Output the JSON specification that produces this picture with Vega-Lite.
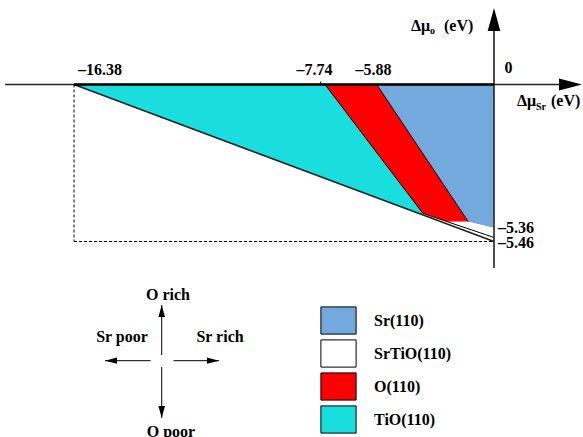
{
  "$schema": "https://vega.github.io/schema/vega-lite/v6.json",
  "width": 583,
  "height": 437,
  "autosize": {"type": "none"},
  "padding": 0,
  "background": "white",
  "config": {"view": {"stroke": null}},
  "datasets": {
    "areas": [
      {"region": "TiO(110)", "x": -16.38, "y": 0, "y2": 0},
      {"region": "TiO(110)", "x": -6.591, "y": 0, "y2": -3.263},
      {"region": "TiO(110)", "x": -2.769, "y": -4.487, "y2": -4.538},
      {"region": "O(110)", "x": -6.591, "y": 0, "y2": 0},
      {"region": "O(110)", "x": -4.575, "y": 0, "y2": -2.367},
      {"region": "O(110)", "x": -2.769, "y": -2.412, "y2": -4.487},
      {"region": "O(110)", "x": -1.833, "y": -3.663, "y2": -4.772},
      {"region": "O(110)", "x": -1.002, "y": -4.772, "y2": -4.772},
      {"region": "Sr(110)", "x": -4.575, "y": 0, "y2": 0},
      {"region": "Sr(110)", "x": -1.002, "y": 0, "y2": -4.772},
      {"region": "Sr(110)", "x": 0, "y": 0, "y2": -4.991},
      {"region": "SrTiO(110)", "x": -2.769, "y": -4.487, "y2": -4.538},
      {"region": "SrTiO(110)", "x": -1.833, "y": -4.772, "y2": -4.849},
      {"region": "SrTiO(110)", "x": -1.002, "y": -4.772, "y2": -5.127},
      {"region": "SrTiO(110)", "x": 0, "y": -4.991, "y2": -5.461}
    ],
    "rules": [
      {"seg": "xaxis", "x": -19.07, "y": 0, "x2": 2.73, "y2": 0},
      {"seg": "yaxis", "x": 0, "y": -6.383, "x2": 0, "y2": 2.07},
      {"seg": "top", "x": -16.38, "y": 0, "x2": 0, "y2": 0},
      {"seg": "diag", "x": -16.38, "y": 0, "x2": 0, "y2": -5.461},
      {"seg": "upper", "x": -2.769, "y": -4.487, "x2": 0, "y2": -5.322},
      {"seg": "redL", "x": -6.591, "y": 0, "x2": -2.769, "y2": -4.487},
      {"seg": "redR", "x": -4.575, "y": 0, "x2": -1.002, "y2": -4.772},
      {"seg": "tick", "x": -6.759, "y": 0, "x2": -6.759, "y2": 0.104},
      {"seg": "dotV", "x": -16.38, "y": 0, "x2": -16.38, "y2": -5.461},
      {"seg": "dotH", "x": -16.38, "y": -5.461, "x2": 0, "y2": -5.461},
      {"seg": "cUp", "x": -12.96, "y": -7.67, "x2": -12.96, "y2": -9.409},
      {"seg": "cDown", "x": -12.96, "y": -9.826, "x2": -12.96, "y2": -11.6},
      {"seg": "cLeft", "x": -13.393, "y": -9.607, "x2": -15.172, "y2": -9.607},
      {"seg": "cRight", "x": -12.496, "y": -9.607, "x2": -10.725, "y2": -9.607}
    ],
    "heads": [
      {"grp": "axis", "dir": "up", "x": 0, "y": 2.261},
      {"grp": "axis", "dir": "right", "x": 2.984, "y": 0},
      {"grp": "compass", "dir": "up", "x": -12.96, "y": -7.878},
      {"grp": "compass", "dir": "down", "x": -12.96, "y": -11.391},
      {"grp": "compass", "dir": "left", "x": -14.938, "y": -9.607},
      {"grp": "compass", "dir": "right", "x": -10.959, "y": -9.607}
    ],
    "labels": [
      {"kind": "c", "t": "–16.38", "x": -15.367, "y": 0.504},
      {"kind": "c", "t": "–7.74", "x": -7.001, "y": 0.504},
      {"kind": "c", "t": "–5.88", "x": -4.7, "y": 0.504},
      {"kind": "c", "t": "0", "x": 0.566, "y": 0.574},
      {"kind": "c", "t": "O rich", "x": -12.715, "y": -7.322},
      {"kind": "c", "t": "Sr poor", "x": -14.509, "y": -8.8},
      {"kind": "c", "t": "Sr rich", "x": -10.686, "y": -8.8},
      {"kind": "c", "t": "O poor", "x": -12.598, "y": -12.077},
      {"kind": "l", "t": "–5.36", "x": 0.156, "y": -4.981},
      {"kind": "l", "t": "–5.46", "x": 0.156, "y": -5.496},
      {"kind": "a", "t": "Δμ", "x": -3.237, "y": 1.861},
      {"kind": "a", "t": "(eV)", "x": -1.95, "y": 1.861},
      {"kind": "a", "t": "Δμ", "x": 0.897, "y": -0.748},
      {"kind": "a", "t": "(eV)", "x": 2.223, "y": -0.748},
      {"kind": "s", "t": "o", "x": -2.496, "y": 1.757},
      {"kind": "s", "t": "Sr", "x": 1.638, "y": -0.887}
    ]
  },
  "encoding": {
    "x": {"field": "x", "type": "quantitative", "scale": {"domain": [-19.267, 3.471], "nice": false, "zero": false}, "axis": null},
    "y": {"field": "y", "type": "quantitative", "scale": {"domain": [-12.261, 2.939], "nice": false, "zero": false}, "axis": null}
  },
  "layer": [
    {
      "data": {"name": "areas"},
      "mark": {"type": "area", "interpolate": "linear", "opacity": 1},
      "encoding": {
        "y2": {"field": "y2"},
        "color": {
          "field": "region", "type": "nominal",
          "scale": {"domain": ["Sr(110)", "SrTiO(110)", "O(110)", "TiO(110)"], "range": ["#74a9de", "#ffffff", "#ff0000", "#1adede"]},
          "legend": {
            "orient": "none", "legendX": 322, "legendY": 304, "title": null,
            "symbolType": "M-1.1,-0.85H1.1V0.85H-1.1Z", "symbolSize": 1024,
            "symbolStrokeColor": "black", "symbolStrokeWidth": 1, "symbolOpacity": 1,
            "labelFont": "Liberation Serif", "labelFontWeight": "bold", "labelFontSize": 16,
            "labelColor": "black", "labelOffset": 19, "rowPadding": 0, "padding": 0
          }
        }
      }
    },
    {
      "data": {"name": "rules"},
      "transform": [{"filter": {"field": "seg", "oneOf": ["upper", "redL", "redR", "tick", "cUp", "cDown", "cLeft", "cRight"]}}],
      "mark": {"type": "rule", "color": "black", "strokeWidth": 1},
      "encoding": {"x2": {"field": "x2"}, "y2": {"field": "y2"}}
    },
    {
      "data": {"name": "rules"},
      "transform": [{"filter": {"field": "seg", "oneOf": ["xaxis", "yaxis", "diag"]}}],
      "mark": {"type": "rule", "color": "#222222", "strokeWidth": 1.6},
      "encoding": {"x2": {"field": "x2"}, "y2": {"field": "y2"}}
    },
    {
      "data": {"name": "rules"},
      "transform": [{"filter": {"field": "seg", "oneOf": ["top"]}}],
      "mark": {"type": "rule", "color": "black", "strokeWidth": 2.4},
      "encoding": {"x2": {"field": "x2"}, "y2": {"field": "y2"}}
    },
    {
      "data": {"name": "rules"},
      "transform": [{"filter": {"field": "seg", "oneOf": ["dotV", "dotH"]}}],
      "mark": {"type": "rule", "color": "black", "strokeWidth": 1, "strokeDash": [3, 2]},
      "encoding": {"x2": {"field": "x2"}, "y2": {"field": "y2"}}
    },
    {
      "data": {"name": "heads"},
      "transform": [{"filter": {"field": "grp", "equal": "axis"}}],
      "mark": {"type": "point", "filled": true, "color": "black", "opacity": 1, "size": 529},
      "encoding": {
        "shape": {"field": "dir", "type": "nominal", "legend": null,
          "scale": {"domain": ["up", "down", "left", "right"], "range": ["M0,-1L0.55,1L-0.55,1Z", "M0,1L0.55,-1L-0.55,-1Z", "M-1,0L1,0.52L1,-0.52Z", "M1,0L-1,0.52L-1,-0.52Z"]}}
      }
    },
    {
      "data": {"name": "heads"},
      "transform": [{"filter": {"field": "grp", "equal": "compass"}}],
      "mark": {"type": "point", "filled": true, "color": "black", "opacity": 1, "size": 144},
      "encoding": {
        "shape": {"field": "dir", "type": "nominal", "legend": null,
          "scale": {"domain": ["up", "down", "left", "right"], "range": ["M0,-1L0.4,1L-0.4,1Z", "M0,1L0.4,-1L-0.4,-1Z", "M-1,0L1,0.4L1,-0.4Z", "M1,0L-1,0.4L-1,-0.4Z"]}}
      }
    },
    {
      "data": {"name": "labels"},
      "transform": [{"filter": {"field": "kind", "equal": "c"}}],
      "mark": {"type": "text", "font": "Liberation Serif", "fontWeight": "bold", "fontSize": 16, "align": "center", "baseline": "middle", "color": "black"},
      "encoding": {"text": {"field": "t"}}
    },
    {
      "data": {"name": "labels"},
      "transform": [{"filter": {"field": "kind", "equal": "l"}}],
      "mark": {"type": "text", "font": "Liberation Serif", "fontWeight": "bold", "fontSize": 16, "align": "left", "baseline": "middle", "color": "black"},
      "encoding": {"text": {"field": "t"}}
    },
    {
      "data": {"name": "labels"},
      "transform": [{"filter": {"field": "kind", "equal": "a"}}],
      "mark": {"type": "text", "font": "Liberation Serif", "fontWeight": "bold", "fontSize": 16, "align": "left", "baseline": "alphabetic", "color": "black"},
      "encoding": {"text": {"field": "t"}}
    },
    {
      "data": {"name": "labels"},
      "transform": [{"filter": {"field": "kind", "equal": "s"}}],
      "mark": {"type": "text", "font": "Liberation Serif", "fontWeight": "bold", "fontSize": 10, "align": "left", "baseline": "alphabetic", "color": "black"},
      "encoding": {"text": {"field": "t"}}
    }
  ]
}
